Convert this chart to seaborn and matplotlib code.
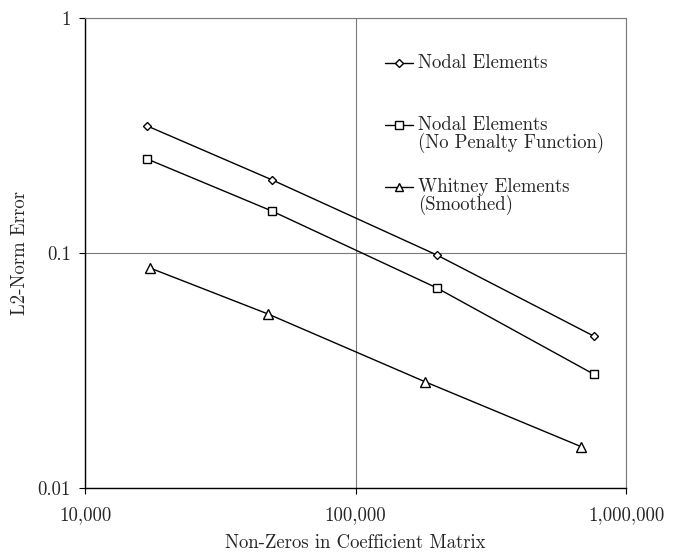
import pandas as pd
import matplotlib.pyplot as plt
import matplotlib.ticker as mticker
import seaborn as sns


# --- veri ---
nodal_x = [17000, 49000, 200000, 760000]
nodal_y = [0.347, 0.205, 0.098, 0.0443]

nopen_x = [17000, 49000, 200000, 760000]
nopen_y = [0.251, 0.151, 0.0710, 0.0305]

whitney_x = [17400, 47500, 181000, 682000]
whitney_y = [0.0863, 0.055, 0.0283, 0.0150]

seri_adlari = ["Nodal Elements", "Nodal Elements\n(No Penalty Function)", "Whitney Elements\n(Smoothed)"]
x_ticks = [10000, 100000, 1000000]
x_tick_labels = ["10,000", "100,000", "1,000,000"]
y_ticks = [0.01, 0.1, 1]
y_tick_labels = ["0.01", "0.1", "1"]

df = pd.concat([
    pd.DataFrame({"x": nodal_x, "y": nodal_y, "seri": seri_adlari[0]}),
    pd.DataFrame({"x": nopen_x, "y": nopen_y, "seri": seri_adlari[1]}),
    pd.DataFrame({"x": whitney_x, "y": whitney_y, "seri": seri_adlari[2]}),
], ignore_index=True)

sns.set_style("white")
plt.rcParams["font.family"] = ["cmr10", "DejaVu Serif"]
plt.rcParams["mathtext.fontset"] = "cm"
plt.rcParams["axes.formatter.use_mathtext"] = True

fig = plt.figure(figsize=(6.74, 5.53), dpi=100)
ax = fig.add_axes([85 / 674, 1 - 488 / 553, 541 / 674, 470 / 553])
ax.set(xscale="log", yscale="log")

markerler = {seri_adlari[0]: "D", seri_adlari[1]: "s", seri_adlari[2]: "^"}
boyutlar = {"D": 4.5, "s": 6, "^": 6.5}

for ad in seri_adlari:
    parca = df[df["seri"] == ad]
    m = markerler[ad]
    sns.lineplot(data=parca, x="x", y="y", ax=ax, color="black", lw=1.0,
                 marker=m, markersize=boyutlar[m], markerfacecolor="white",
                 markeredgecolor="black", markeredgewidth=1.0,
                 estimator=None, sort=False, legend=False)

ax.set_xlim(10000, 1000000)
ax.set_ylim(0.01, 1)
ax.xaxis.set_major_locator(mticker.FixedLocator(x_ticks))
ax.xaxis.set_minor_locator(mticker.NullLocator())
ax.yaxis.set_major_locator(mticker.FixedLocator(y_ticks))
ax.yaxis.set_minor_locator(mticker.NullLocator())
ax.set_xticklabels(x_tick_labels)
ax.set_yticklabels(y_tick_labels)
ax.tick_params(axis="both", which="major", labelsize=13.5, length=4, width=0.8,
               color="black", direction="out", bottom=True, left=True)
ax.tick_params(axis="x", pad=9)
ax.tick_params(axis="y", pad=6)

ax.grid(True, which="major", color="#7a7a7a", lw=0.8)
for s in ["top", "right"]:
    ax.spines[s].set_color("#7a7a7a")
    ax.spines[s].set_linewidth(0.8)
for s in ["left", "bottom"]:
    ax.spines[s].set_color("black")
    ax.spines[s].set_linewidth(1.0)

ax.set_xlabel("Non-Zeros in Coefficient Matrix", fontsize=13.5, labelpad=7)
ax.set_ylabel("L2-Norm Error", fontsize=13.5, labelpad=6)

# --- legend (elle) ---
satir_y = [0.904, 0.772, 0.640]
satir_aralik = 18 / 470
for ad, yy in zip(seri_adlari, satir_y):
    m = markerler[ad]
    ax.plot([0.555, 0.606], [yy, yy], transform=ax.transAxes, color="black", lw=1.0)
    ax.plot([0.5805], [yy], transform=ax.transAxes, marker=m, markersize=boyutlar[m] * 0.85,
            markerfacecolor="white", markeredgecolor="black", markeredgewidth=1.0)
    for i, satir in enumerate(ad.split("\n")):
        ax.text(0.616, yy - i * satir_aralik, satir, transform=ax.transAxes,
                ha="left", va="center", fontsize=13.5)

fig.savefig("out.png", dpi=100)
